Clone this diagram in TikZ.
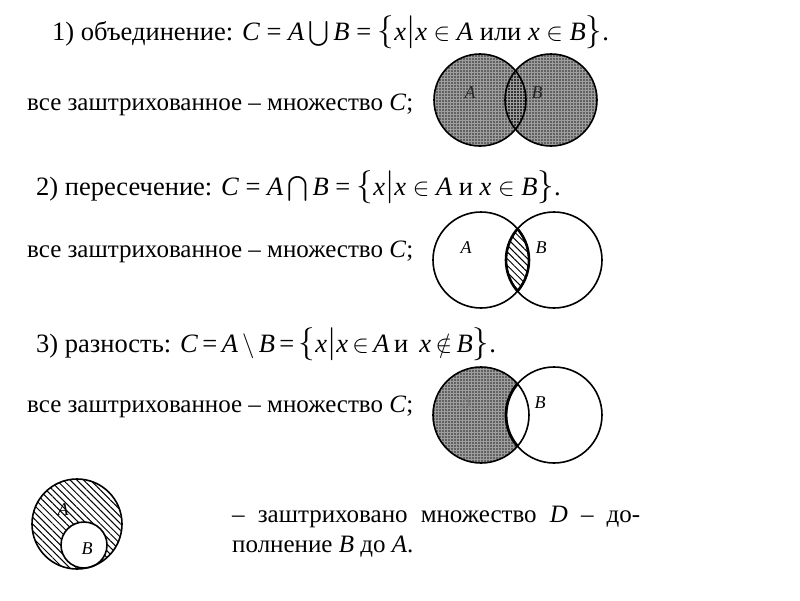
\documentclass[tikz,border=0pt]{standalone}
\usepackage{amsmath}
\usepackage{exscale}
\usepackage{fontspec}
\setmainfont{Liberation Serif}
\usetikzlibrary{patterns,patterns.meta}
\newcommand\brc[1]{\scalebox{1.33}{$#1$}}
\begin{document}
\begin{tikzpicture}[x=1pt,y=-1pt,
  txt/.style={anchor=base west, inner sep=0pt, font=\rmfamily\fontsize{25}{30}\selectfont},
  head/.style={anchor=base west, inner sep=0pt, font=\rmfamily\fontsize{26.5}{30}\selectfont},
  lbl/.style={inner sep=0pt, font=\rmfamily\fontsize{18}{20}\selectfont\itshape},
  circ/.style={line width=1.6pt},
  dark/.style={fill=black!62},
  darker/.style={fill=black!80},
  gridp/.style={pattern=grid, pattern color=black!38},
  hatch/.style={pattern={Lines[angle=-45,distance=4.8pt,line width=1pt]}, pattern color=black}]
\useasboundingbox (0,0) rectangle (800,600);
% ---------- 1) union
\node[head] (t1) at (52,40) {1) объединение: \textit{C} = \textit{A}$\,\bigcup\,$\textit{B} = \brc{\{}\textit{x}\brc{|}\textit{x} $\in$ \textit{A} или \textit{x} $\in$ \textit{B}\brc{\}}.};
\node[txt] (s1) at (27,110) {все заштрихованное – множество \textit{C};};
\coordinate (A1) at (480,100);
\coordinate (B1) at (551,100);
\fill[dark] (A1) circle[radius=46pt];
\fill[dark] (B1) circle[radius=46pt];
\begin{scope}
  \clip (A1) circle[radius=46pt];
  \fill[darker] (B1) circle[radius=46pt];
\end{scope}
\fill[gridp] (A1) circle[radius=46pt];
\fill[gridp] (B1) circle[radius=46pt];
\draw[circ] (A1) circle[radius=46pt];
\draw[circ] (B1) circle[radius=46pt];
\node[lbl, text=black!85] (la1) at (470,93) {A};
\node[lbl, text=black!85] (lb1) at (537,93) {B};
% ---------- 2) intersection
\node[head] (t2) at (36,195) {2) пересечение: \textit{C} = \textit{A}$\,\bigcap\,$\textit{B} = \brc{\{}\textit{x}\brc{|}\textit{x} $\in$ \textit{A} и \textit{x} $\in$ \textit{B}\brc{\}}.};
\node[txt] (s2) at (27,257) {все заштрихованное – множество \textit{C};};
\coordinate (A2) at (481,260);
\coordinate (B2) at (554,260);
\begin{scope}
  \clip (A2) circle[radius=48pt];
  \fill[hatch] (B2) circle[radius=48pt];
  \draw[line width=2.6pt] (B2) circle[radius=48pt];
\end{scope}
\begin{scope}
  \clip (B2) circle[radius=48pt];
  \draw[line width=2.6pt] (A2) circle[radius=48pt];
\end{scope}
\draw[circ] (A2) circle[radius=48pt];
\draw[circ] (B2) circle[radius=48pt];
\node[lbl] (la2) at (466,248) {A};
\node[lbl] (lb2) at (541,248) {B};
% ---------- 3) difference
\node[head] (t3) at (36,352) {3) разность: \textit{C}\,=\,\textit{A}$\,\setminus\,$\textit{B}\,=\,\brc{\{}\textit{x}\brc{|}\textit{x}\,$\in$\,\textit{A}\,и\, \textit{x}\,$\notin$\,\textit{B}\brc{\}}.};
\node[txt] (s3) at (27,412) {все заштрихованное – множество \textit{C};};
\coordinate (A3) at (481,415);
\coordinate (B3) at (554,415);
\fill[dark] (A3) circle[radius=48pt];
\fill[gridp] (A3) circle[radius=48pt];
\fill[white] (B3) circle[radius=48pt];
\node[lbl, text=black!50] (la3) at (466,403) {A};
\begin{scope}
  \clip (A3) circle[radius=48pt];
  \draw[line width=2.8pt] (B3) circle[radius=48pt];
\end{scope}
\draw[circ] (A3) circle[radius=48pt];
\draw[circ] (B3) circle[radius=48pt];
\node[lbl] (lb3) at (540,403) {B};
% ---------- complement
\coordinate (A4) at (77,524);
\coordinate (B4) at (84,545);
\fill[hatch] (A4) circle[radius=45pt];
\fill[white] (B4) circle[radius=23pt];
\draw[circ] (A4) circle[radius=45pt];
\draw[circ] (B4) circle[radius=23pt];
\node[lbl] (la4) at (63,510) {A};
\node[lbl] (lb4) at (87,549) {B};
\node[txt] (d1) at (232,522) {\hbox to 408pt{– \hfill заштриховано \hfill множество \hfill \textit{D} \hfill – \hfill до-}};
\node[txt] (d2) at (232,552) {полнение \textit{B} до \textit{A}.};
\end{tikzpicture}
\end{document}
